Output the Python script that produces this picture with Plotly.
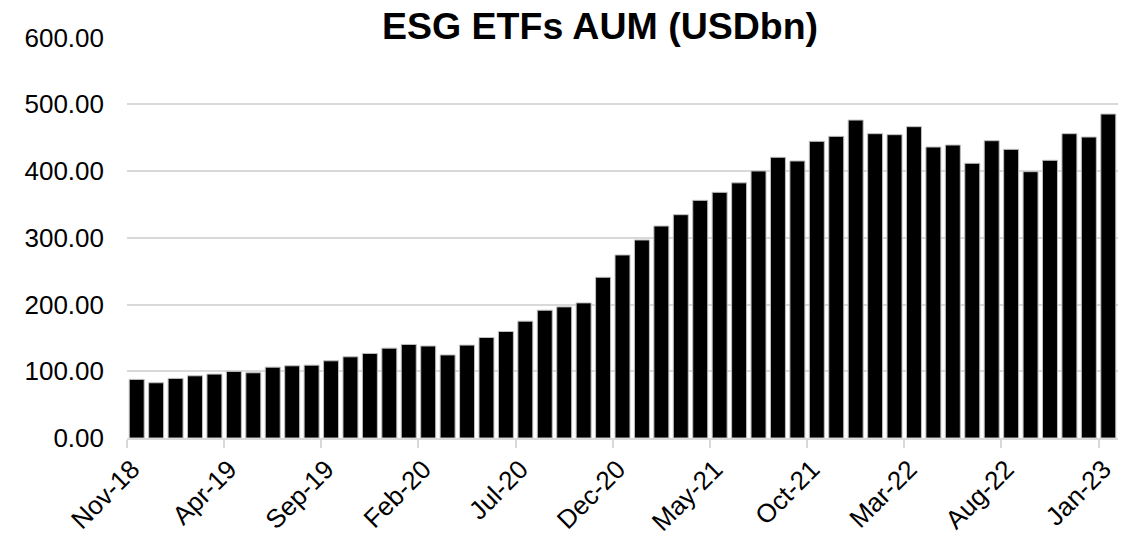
import plotly.graph_objects as go

months = ["Nov-18","Dec-18","Jan-19","Feb-19","Mar-19","Apr-19","May-19","Jun-19","Jul-19","Aug-19",
          "Sep-19","Oct-19","Nov-19","Dec-19","Jan-20","Feb-20","Mar-20","Apr-20","May-20","Jun-20",
          "Jul-20","Aug-20","Sep-20","Oct-20","Nov-20","Dec-20","Jan-21","Feb-21","Mar-21","Apr-21",
          "May-21","Jun-21","Jul-21","Aug-21","Sep-21","Oct-21","Nov-21","Dec-21","Jan-22","Feb-22",
          "Mar-22","Apr-22","May-22","Jun-22","Jul-22","Aug-22","Sep-22","Oct-22","Nov-22","Dec-22",
          "Jan-23"]

aum = [87.8, 82.8, 89.3, 93.2, 95.8, 99.8, 97.8, 106.2, 108.2, 109.2,
       115.7, 121.7, 126.7, 134.7, 140.2, 137.9, 124.5, 139.2, 150.6, 159.6,
       175.1, 191.5, 196.5, 202.5, 240.9, 274.3, 296.8, 317.7, 334.7, 356.2,
       368.2, 382.4, 400.2, 420.7, 415.2, 444.6, 452.1, 476.5, 456.1, 454.6,
       466.6, 436.1, 439.1, 411.7, 445.6, 432.6, 399.2, 416.2, 456.1, 451.1,
       485.5]

tick_labels = ["Nov-18","Apr-19","Sep-19","Feb-20","Jul-20","Dec-20","May-21","Oct-21","Mar-22","Aug-22","Jan-23"]

title_text = "ESG ETFs AUM (USDbn)"

# bar centres sit in the middle of each monthly slot; ticks on slot boundaries
x_pos = [i + 0.5 for i in range(len(months))]
tick_pos = [months.index(t) for t in tick_labels]

fig = go.Figure()
fig.add_trace(go.Bar(
    x=x_pos, y=aum, customdata=months,
    marker=dict(color="#000000", line=dict(color="#bfbfbf", width=1)),
    hovertemplate="%{customdata}: %{y:.2f}<extra></extra>",
))

FONT = "Liberation Sans, Arial, sans-serif"

fig.update_layout(
    width=1133, height=534,
    margin=dict(l=127, r=15, t=37, b=96),
    paper_bgcolor="white", plot_bgcolor="white",
    bargap=0.23, showlegend=False,
    font=dict(family=FONT, size=26, color="#000000"),
    annotations=[dict(
        text="<b>" + title_text + "</b>", xref="paper", yref="paper",
        x=0.4775, y=1.028, xanchor="center", yanchor="middle",
        showarrow=False, bgcolor="white", borderpad=5,
        font=dict(family=FONT, size=37.5, color="#000000"),
    )],
)

fig.update_yaxes(
    range=[0, 601], tickvals=[0, 100, 200, 300, 400, 500, 600],
    tickformat=".2f", showgrid=True, gridcolor="#d9d9d9", gridwidth=1.5,
    zeroline=False, showline=False, ticks="", ticklabelstandoff=22,
    automargin=False,
    tickfont=dict(family=FONT, size=26, color="#000000"),
)
fig.update_xaxes(
    range=[0, len(months)], tickvals=tick_pos, ticktext=tick_labels,
    tickangle=-45, showgrid=False, zeroline=False,
    showline=True, linecolor="#d9d9d9", linewidth=1.5,
    ticks="outside", ticklen=8, tickcolor="#d9d9d9", tickwidth=1.5,
    ticklabelshift=5, ticklabelstandoff=-4, automargin=False,
    tickfont=dict(family=FONT, size=26, color="#000000"),
)

fig.write_html(
    "out.html",
    config={"displayModeBar": False},
    post_script="document.body.style.margin='0';document.body.style.overflow='hidden';",
)
